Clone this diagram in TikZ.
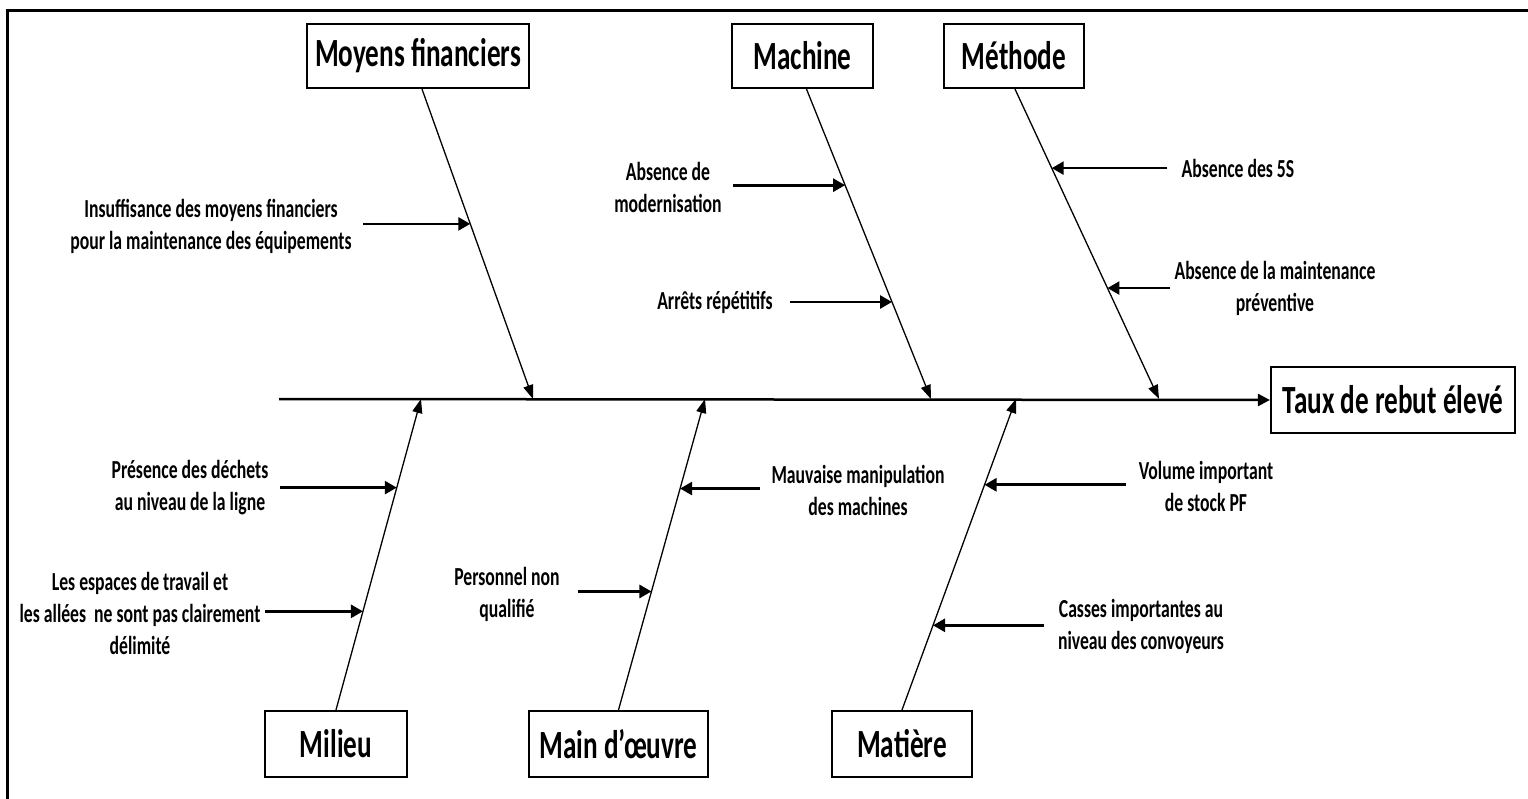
\documentclass[tikz,border=0pt]{standalone}
\usepackage{fontspec}
\newfontfamily\diagfont{Carlito}[FakeStretch=0.68]
\usetikzlibrary{arrows.meta,calc}

\tikzset{
  catbox/.style={draw, line width=2.2pt, minimum height=64pt, inner sep=0pt,
    font=\diagfont\bfseries\fontsize{40}{44}\selectfont},
  causetext/.style={align=center, inner sep=0pt,
    font=\diagfont\bfseries\fontsize{26}{32}\selectfont},
  bone/.style={line width=1.3pt, -{Triangle[length=14pt,width=10pt]}},
  feeder/.style={line width=2.7pt, -{Triangle[length=12pt,width=13pt]}},
  spine/.style={line width=2.5pt, -{Triangle[length=12pt,width=12pt]}},
  frameline/.style={line width=3pt},
}

\begin{document}
\begin{tikzpicture}[x=1pt,y=-1pt]
  \useasboundingbox (0,0) rectangle (1528,799);

  % outer frame (top and left edges)
  \draw[frameline] (7,799) -- (7,11) -- (1528,11);

  % effect
  \node[catbox, minimum width=244pt, minimum height=66pt] (effect) at (1393,400) {Taux de rebut élevé};

  % category boxes
  \node[catbox, minimum width=222pt] (mf) at (418,56) {Moyens financiers};
  \node[catbox, minimum width=141pt] (mac) at (802.5,56) {Machine};
  \node[catbox, minimum width=140pt] (met) at (1014,56) {Méthode};
  \node[catbox, minimum width=142pt, minimum height=66pt] (mil) at (336,744) {Milieu};
  \node[catbox, minimum width=179pt, minimum height=66pt] (mo) at (618.5,744) {Main d’œuvre};
  \node[catbox, minimum width=140pt, minimum height=66pt] (mat) at (902,744) {Matière};

  % spine
  \coordinate (tail) at (279,399);
  \draw[spine] (tail) -- (effect.west);

  % junctions on the spine
  \coordinate (jA) at (533,399);
  \coordinate (jB) at (931,399);
  \coordinate (jC) at (1159,399);
  \coordinate (jD) at (421,399);
  \coordinate (jE) at (705,399);
  \coordinate (jF) at (1016,399);

  % main bones
  \draw[bone] ([xshift=4pt]mf.south) -- coordinate[pos=0.435] (fA1) (jA);
  \draw[bone] ([xshift=4pt]mac.south) -- coordinate[pos=0.310] (fB1) coordinate[pos=0.687] (fB2) (jB);
  \draw[bone] ([xshift=1pt]met.south) -- coordinate[pos=0.255] (fC1) coordinate[pos=0.642] (fC2) (jC);
  \draw[bone] (mil.north) -- coordinate[pos=0.317] (fD2) coordinate[pos=0.715] (fD1) (jD);
  \draw[bone] (mo.north) -- coordinate[pos=0.381] (fE2) coordinate[pos=0.712] (fE1) (jE);
  \draw[bone] (mat.north) -- coordinate[pos=0.272] (fF2) coordinate[pos=0.724] (fF1) (jF);

  % feeder tails
  \coordinate (tA1) at (363,0);
  \coordinate (tB1) at (733,0);
  \coordinate (tB2) at (790,0);
  \coordinate (tC1) at (1167,0);
  \coordinate (tC2) at (1170,0);
  \coordinate (tD1) at (280,0);
  \coordinate (tD2) at (265,0);
  \coordinate (tE1) at (760,0);
  \coordinate (tE2) at (578,0);
  \coordinate (tF1) at (1126,0);
  \coordinate (tF2) at (1044,0);

  \draw[feeder] (fA1 -| tA1) -- (fA1);
  \draw[feeder] (fB1 -| tB1) -- (fB1);
  \draw[feeder] (fB2 -| tB2) -- (fB2);
  \draw[feeder] (fC1 -| tC1) -- (fC1);
  \draw[feeder] (fC2 -| tC2) -- (fC2);
  \draw[feeder] (fD1 -| tD1) -- (fD1);
  \draw[feeder] (fD2 -| tD2) -- (fD2);
  \draw[feeder] (fE1 -| tE1) -- (fE1);
  \draw[feeder] (fE2 -| tE2) -- (fE2);
  \draw[feeder] (fF1 -| tF1) -- (fF1);
  \draw[feeder] (fF2 -| tF2) -- (fF2);

  % cause labels
  \node[causetext] (cA1) at (211,226) {Insuffisance des moyens financiers\\pour la maintenance des équipements};
  \node[causetext] (cB1) at (668,187) {Absence de\\modernisation};
  \node[causetext] (cB2) at (715,302) {Arrêts répétitifs};
  \node[causetext] (cC1) at (1238,168) {Absence des 5S};
  \node[causetext] (cC2) at (1275,288) {Absence de la maintenance\\préventive};
  \node[causetext] (cD1) at (190,488) {Présence des déchets\\au niveau de la ligne};
  \node[causetext] (cD2) at (140,613) {Les espaces de travail et\\les allées\ \ ne sont pas clairement\\délimité};
  \node[causetext] (cE2) at (507,594) {Personnel non\\qualifié};
  \node[causetext] (cE1) at (858,490) {Mauvaise manipulation\\des machines};
  \node[causetext] (cF1) at (1206,486) {Volume important\\de stock PF};
  \node[causetext] (cF2) at (1141,626) {Casses importantes au\\niveau des convoyeurs};
\end{tikzpicture}
\end{document}
